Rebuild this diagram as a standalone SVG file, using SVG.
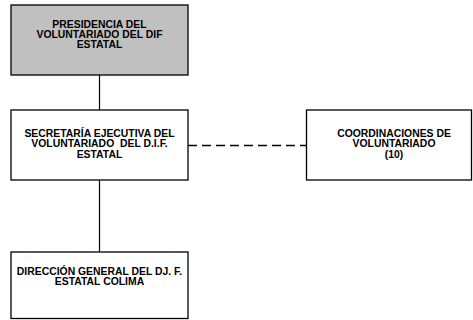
<svg xmlns="http://www.w3.org/2000/svg" width="473" height="320" viewBox="0 0 473 320">
<style>
.box{fill:#ffffff;stroke:#000000;stroke-width:1.3}
.gray{fill:#c0c0c0}
.t{font-family:"Liberation Sans",Arial,sans-serif;font-weight:bold;font-size:10.4px;text-anchor:middle;fill:#000;white-space:pre}
.ln{stroke:#000;stroke-width:1.2;fill:none}
.dash{stroke-dasharray:9 5;stroke-width:1.3}
</style>
<rect width="473" height="320" fill="#fff"/>
<g id="connectors">
<line class="ln" x1="99.5" y1="75" x2="99.5" y2="110"/>
<line class="ln" x1="99.5" y1="180" x2="99.5" y2="252"/>
<line class="ln dash" x1="188" y1="145.5" x2="306.5" y2="145.5"/>
</g>
<g id="presidencia">
<rect class="box gray" x="11" y="5" width="177" height="70"/>
<text class="t" x="99.5" y="27.5">PRESIDENCIA DEL</text>
<text class="t" x="99.5" y="37.8">VOLUNTARIADO DEL DIF</text>
<text class="t" x="99.5" y="48">ESTATAL</text>
</g>
<g id="secretaria">
<rect class="box" x="11" y="110" width="177" height="70"/>
<text class="t" x="99.5" y="137">SECRETARÍA EJECUTIVA DEL</text>
<text class="t" x="99.5" y="147.3" xml:space="preserve">VOLUNTARIADO  DEL D.I.F.</text>
<text class="t" x="99.5" y="157.6">ESTATAL</text>
</g>
<g id="coordinaciones">
<rect class="box" x="306.5" y="110" width="165" height="70"/>
<text class="t" x="394" y="137">COORDINACIONES DE</text>
<text class="t" x="394" y="147.3">VOLUNTARIADO</text>
<text class="t" x="394" y="157.6">(10)</text>
</g>
<g id="direccion">
<rect class="box" x="11" y="252" width="177" height="66.5"/>
<text class="t" x="99.5" y="275">DIRECCIÓN GENERAL DEL DJ. F.</text>
<text class="t" x="99.5" y="285.3">ESTATAL COLIMA</text>
</g>
</svg>
